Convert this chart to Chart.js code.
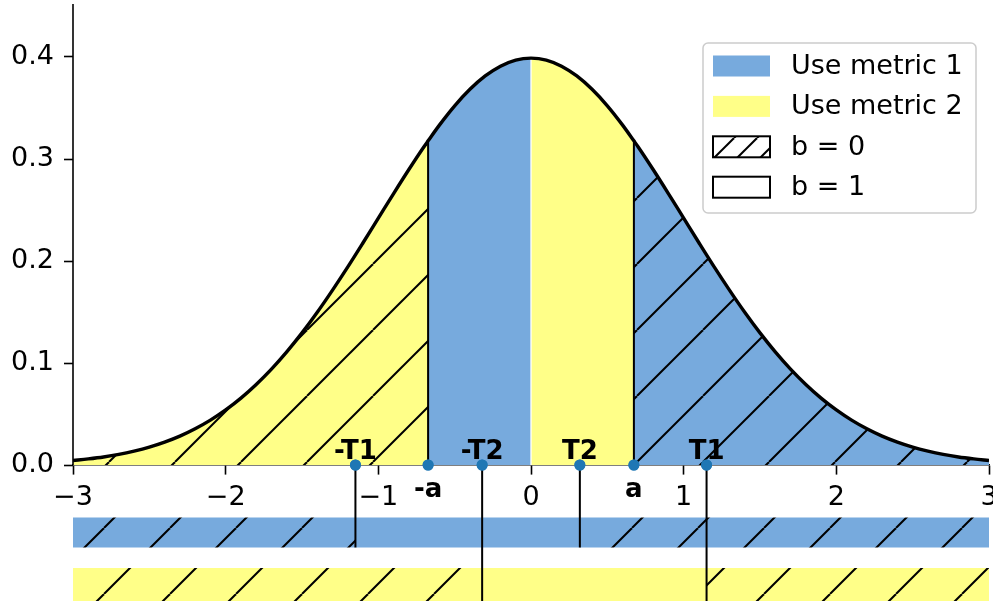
<!DOCTYPE html>
<html>
<head>
<meta charset="utf-8">
<script src="https://cdn.jsdelivr.net/npm/chart.js@4.4.0/dist/chart.umd.min.js"></script>
<style>
  html, body { margin: 0; padding: 0; background: #fff; overflow: hidden; }
  canvas { display: block; }
</style>
</head>
<body>
<canvas id="chart" width="993" height="601"></canvas>
<script>
// ticks
const xTicks = [-3, -2, -1, 0, 1, 2, 3];
const yTicks = [0, 0.1, 0.2, 0.3, 0.4];

// density curve
const curveX = [-3.0, -2.9, -2.8, -2.7, -2.6, -2.5, -2.4, -2.3, -2.2, -2.1, -2.0, -1.9, -1.8, -1.7, -1.6, -1.5,
  -1.4, -1.3, -1.2, -1.1, -1.0, -0.9, -0.8, -0.7, -0.674, -0.6, -0.5, -0.4, -0.3, -0.2, -0.1, 0,
  0.1, 0.2, 0.3, 0.4, 0.5, 0.6, 0.674, 0.7, 0.8, 0.9, 1.0, 1.1, 1.2, 1.3, 1.4, 1.5, 1.6, 1.7, 1.8,
  1.9, 2.0, 2.1, 2.2, 2.3, 2.4, 2.5, 2.6, 2.7, 2.8, 2.9, 3.0];
const curveY = [0.0044, 0.0060, 0.0079, 0.0104, 0.0136, 0.0175, 0.0224, 0.0283, 0.0355, 0.0440, 0.0540, 0.0656, 0.0790, 0.0940, 0.1109, 0.1295,
  0.1497, 0.1714, 0.1942, 0.2179, 0.2420, 0.2661, 0.2897, 0.3123, 0.3178, 0.3332, 0.3521, 0.3683, 0.3814, 0.3910, 0.3970, 0.3989,
  0.3970, 0.3910, 0.3814, 0.3683, 0.3521, 0.3332, 0.3178, 0.3123, 0.2897, 0.2661, 0.2420, 0.2179, 0.1942, 0.1714, 0.1497, 0.1295, 0.1109, 0.0940, 0.0790,
  0.0656, 0.0540, 0.0440, 0.0355, 0.0283, 0.0224, 0.0175, 0.0136, 0.0104, 0.0079, 0.0060, 0.0044];

// filled areas under the curve
const regionBreaks = [-3, -0.674, 0, 0.674, 3];
const regionMetric = [2, 1, 2, 1];
const regionHatch = [true, false, false, true];
const aValue = 0.674;
const aHeight = 0.3178;

// threshold points on the axis
const pointNames = ['-T1', '-a', '-T2', 'T2', 'a', 'T1'];
const pointValues = [-1.15, -0.674, -0.32, 0.32, 0.674, 1.15];
const pointLabelBelow = [false, true, false, false, true, false];

// strips under the axis
const strip1Range = [-0.0515, -0.081];
const strip1Breaks = [-3, -1.15, 0.32, 3];
const strip1Hatch = [true, false, true];
const strip2Range = [-0.101, -0.1334];
const strip2Breaks = [-3, -0.32, 1.15, 3];
const strip2Hatch = [true, false, true];

// legend
const legendLabels = ['Use metric 1', 'Use metric 2', 'b = 0', 'b = 1'];

const BLUE = '#77aadd';
const YELLOW = '#ffff88';
const DOT = '#1f77b4';
const FONT = 'DejaVu Sans';

function hatch(bg, size, offset, lw) {
  const c = document.createElement('canvas');
  c.width = size; c.height = size;
  const g = c.getContext('2d');
  if (bg) { g.fillStyle = bg; g.fillRect(0, 0, size, size); }
  g.strokeStyle = '#000';
  g.lineWidth = lw;
  for (let k = -1; k <= 1; k++) {
    g.beginPath();
    g.moveTo(k * size, size);
    g.lineTo(k * size + size, 0);
    g.stroke();
  }
  const p = g.createPattern(c, 'repeat');
  p.setTransform(new DOMMatrix().translate(offset, 0));
  return p;
}

const metricColor = m => (m === 1 ? BLUE : YELLOW);

const pts = (lo, hi) => curveX.map((x, i) => ({ x, y: curveY[i] }))
  .filter(p => p.x >= lo - 1e-9 && p.x <= hi + 1e-9);

const datasets = [];

// areas
regionMetric.forEach((m, i) => {
  datasets.push({
    data: pts(regionBreaks[i], regionBreaks[i + 1]),
    borderColor: 'rgba(0,0,0,0)', borderWidth: 0, pointRadius: 0,
    backgroundColor: regionHatch[i] ? hatch(metricColor(m), 66, 43, 2) : metricColor(m),
    fill: { value: 0 }, cubicInterpolationMode: 'monotone', order: 20
  });
});

// strips
function addStrip(range, breaks, hatches, metric) {
  hatches.forEach((h, i) => {
    datasets.push({
      data: [{ x: breaks[i], y: range[0] }, { x: breaks[i + 1], y: range[0] }],
      borderColor: 'rgba(0,0,0,0)', borderWidth: 0, pointRadius: 0,
      backgroundColor: h ? hatch(metricColor(metric), 66, 38, 2) : metricColor(metric),
      fill: { value: range[1] }, order: 20
    });
  });
}
addStrip(strip1Range, strip1Breaks, strip1Hatch, 1);
addStrip(strip2Range, strip2Breaks, strip2Hatch, 2);

// white seam at zero
datasets.push({
  data: [{ x: 0, y: 0 }, { x: 0, y: curveY[curveX.indexOf(0)] }],
  borderColor: '#fff', borderWidth: 1.3, pointRadius: 0, fill: false, order: 15
});

// curve
datasets.push({
  data: pts(-3, 3), borderColor: '#000', borderWidth: 3.4, pointRadius: 0,
  fill: false, cubicInterpolationMode: 'monotone', order: 10
});

// lines at +-a
[-aValue, aValue].forEach(v => {
  datasets.push({
    data: [{ x: v, y: 0 }, { x: v, y: aHeight }],
    borderColor: '#000', borderWidth: 2, pointRadius: 0, fill: false, order: 8
  });
});

// drop lines to the strips
const dropTo = { '-T1': strip1Range[1], 'T2': strip1Range[1], '-T2': strip2Range[1], 'T1': strip2Range[1] };
pointNames.forEach((n, i) => {
  if (dropTo[n] === undefined) return;
  datasets.push({
    data: [{ x: pointValues[i], y: 0 }, { x: pointValues[i], y: dropTo[n] }],
    borderColor: '#000', borderWidth: 2, pointRadius: 0, fill: false, order: 8
  });
});

// dots
datasets.push({
  data: pointValues.map(v => ({ x: v, y: 0 })),
  showLine: false, pointRadius: 5.5, pointBackgroundColor: DOT, pointBorderColor: DOT,
  pointBorderWidth: 0, order: 1
});
const dotIndex = datasets.length - 1;

const overlay = {
  id: 'overlay',
  afterDatasetsDraw(chart) {
    // left spine only down to y = 0
    const { ctx, scales: { x, y } } = chart;
    ctx.save();
    ctx.strokeStyle = '#000';
    ctx.lineWidth = 1.6;
    ctx.beginPath();
    ctx.moveTo(x.left, y.getPixelForValue(y.max));
    ctx.lineTo(x.left, y.getPixelForValue(0));
    ctx.stroke();
    ctx.restore();
  },
  afterDraw(chart) {
    const { ctx, scales: { x, y } } = chart;
    // dots sit above the x axis line
    chart.getDatasetMeta(dotIndex).controller.draw();
    const y0 = y.getPixelForValue(0);
    ctx.save();
    ctx.fillStyle = '#000';
    ctx.textAlign = 'center';
    ctx.textBaseline = 'alphabetic';
    ctx.font = 'bold 26px "' + FONT + '"';
    pointNames.forEach((n, i) => {
      const px = x.getPixelForValue(pointValues[i]);
      ctx.fillText(n, px, pointLabelBelow[i] ? y0 + 32 : y0 - 6);
    });

    // legend
    const lx = 703, ly = 43, lw = 273, lh = 170;
    ctx.beginPath();
    ctx.roundRect(lx, ly, lw, lh, 5);
    ctx.fillStyle = 'rgba(255,255,255,0.8)';
    ctx.fill();
    ctx.strokeStyle = '#cccccc';
    ctx.lineWidth = 1.5;
    ctx.stroke();
    ctx.font = '27px "' + FONT + '"';
    ctx.textAlign = 'left';
    ctx.textBaseline = 'middle';
    legendLabels.forEach((lab, i) => {
      const cy = 66 + i * 40.4;
      const sx = 713, sw = 57, sh = 21, sy = cy - sh / 2;
      if (i < 2) {
        ctx.fillStyle = i === 0 ? BLUE : YELLOW;
        ctx.fillRect(sx, sy, sw, sh);
      } else {
        ctx.fillStyle = i === 2 ? hatch('#fff', 23, 21, 2) : '#fff';
        ctx.fillRect(sx, sy, sw, sh);
        ctx.strokeStyle = '#000';
        ctx.lineWidth = 2;
        ctx.strokeRect(sx, sy, sw, sh);
      }
      ctx.fillStyle = '#000';
      ctx.fillText(lab, 791, cy + 1);
    });
    ctx.restore();
  }
};

new Chart(document.getElementById('chart'), {
  type: 'line',
  data: { datasets },
  options: {
    responsive: false,
    devicePixelRatio: 1,
    animation: false,
    layout: { autoPadding: false, padding: { left: 0, right: 4, top: 4, bottom: 0 } },
    plugins: { legend: { display: false }, tooltip: { enabled: false } },
    scales: {
      x: {
        type: 'linear', min: -3, max: 3, position: { y: 0 }, z: 1,
        afterBuildTicks: s => { s.ticks = xTicks.map(v => ({ value: v })); },
        afterFit: s => { s.paddingLeft = 0; s.paddingRight = 0; s.paddingTop = 0; s.paddingBottom = 0; },
        border: { display: true, color: '#000', width: 1.6 },
        grid: { drawOnChartArea: false, drawTicks: true, tickLength: 9, tickColor: '#000', tickWidth: 1.6 },
        ticks: {
          autoSkip: false, maxRotation: 0, minRotation: 0, padding: 8, color: '#000',
          font: { family: FONT, size: 27 },
          callback: v => (v < 0 ? '\u2212' + Math.abs(v) : String(v))
        }
      },
      y: {
        type: 'linear', min: -0.13333, max: 0.45196, position: 'left',
        afterBuildTicks: s => { s.ticks = yTicks.map(v => ({ value: v })); },
        afterFit: s => { s.width = 73; s.paddingTop = 0; s.paddingBottom = 0; },
        border: { display: false },
        grid: { drawOnChartArea: false, drawTicks: true, tickLength: 9, tickColor: '#000', tickWidth: 1.6 },
        ticks: {
          padding: 10, color: '#000',
          font: { family: FONT, size: 27 },
          callback: v => v.toFixed(1)
        }
      }
    }
  },
  plugins: [overlay]
});
</script>
</body>
</html>
